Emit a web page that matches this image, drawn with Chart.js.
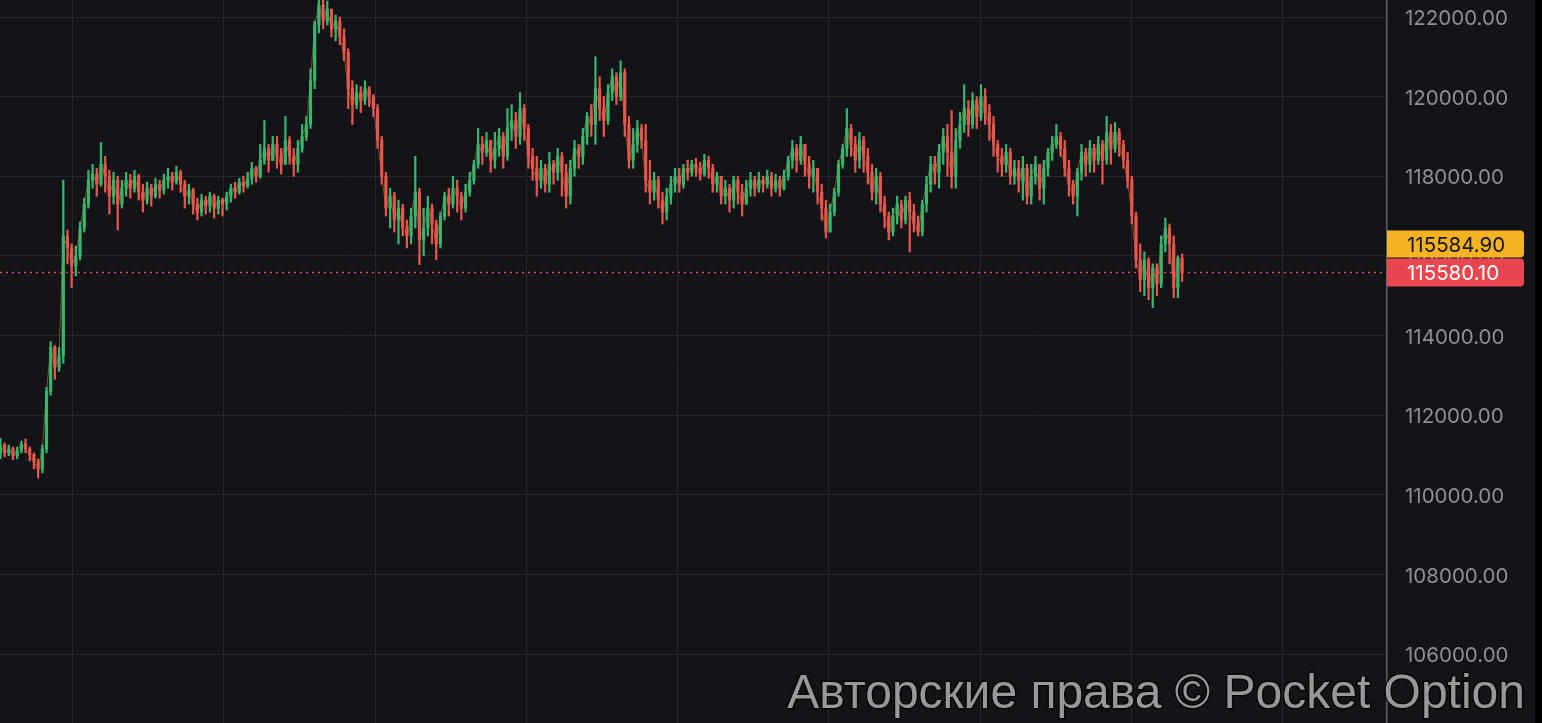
<!DOCTYPE html>
<html>
<head>
<meta charset="utf-8">
<style>
  html, body { margin: 0; background: #000; }
  #wrap { position: relative; width: 1535px; height: 723px; }
</style>
<script src="https://cdn.jsdelivr.net/npm/chart.js@4.4.1/dist/chart.umd.min.js"></script>
</head>
<body>
<div id="wrap"><canvas id="chart"></canvas></div>
<script>
// candles, oldest first; each opens at the previous close
const firstOpen = 111050;
const closes = [
  111250, 111050, 111150, 110980, 111100, 111280, 111150, 111000, 110820, 110650,
  111150, 112600, 113700, 113200, 113500, 116500, 116200, 115750, 116000, 116700,
  117300, 117900, 118050, 117800, 118300, 118000, 117500, 117900, 117300, 117700,
  117900, 117700, 118000, 117600, 117400, 117700, 117500, 117800, 117650, 117900,
  118000, 117850, 118100, 117800, 117500, 117650, 117300, 117100, 117400, 117250,
  117500, 117200, 117400, 117300, 117500, 117700, 117600, 117850, 117750, 117950,
  118200, 118000, 118400, 118700, 118400, 118800, 118500, 118300, 118900, 118500,
  118300, 118700, 119000, 119300, 120400, 121800, 122300, 121900, 122200, 121700,
  121900, 121500, 121100, 120200, 119800, 120100, 119900, 120200, 120000, 119700,
  118900, 118000, 117200, 117500, 116900, 117200, 116700, 116500, 117000, 117600,
  116400, 116700, 117200, 116800, 116300, 117000, 117500, 117300, 117700, 117500,
  117200, 117600, 117900, 118300, 118800, 118600, 118900, 118400, 118700, 119000,
  118500, 119200, 119400, 119000, 119700, 119200, 118500, 118200, 117900, 118200,
  117800, 118300, 118100, 118500, 118100, 117500, 118200, 118700, 118500, 119000,
  119500, 119300, 120200, 119700, 119400, 120100, 120500, 120000, 120600, 119300,
  118400, 118800, 119200, 118900, 117900, 117600, 117900, 117400, 117100, 117500,
  117800, 118000, 117800, 118200, 118100, 118300, 118200, 118050, 118400, 118200,
  117800, 118000, 117500, 117700, 117400, 117900, 117600, 117300, 117700, 117900,
  117700, 117900, 117800, 118000, 117700, 117900, 117700, 118000, 118400, 118700,
  118400, 118800, 118300, 118000, 118200, 117600, 117200, 116600, 117100, 117600,
  118300, 118700, 119200, 118800, 118400, 118900, 118500, 118100, 117600, 118000,
  117300, 117000, 116600, 117000, 117300, 116900, 117400, 117100, 116800, 116600,
  117300, 117800, 118300, 118100, 118600, 119000, 118600, 118000, 118900, 119300,
  119700, 119300, 119900, 119500, 120000, 119600, 119300, 118800, 118500, 118300,
  118600, 118000, 118200, 117900, 118200, 117500, 118000, 118300, 117700, 118200,
  118600, 118800, 119000, 118700, 118200, 117800, 117500, 118100, 118600, 118300,
  118700, 118400, 118800, 118400, 119100, 118700, 119100, 118800, 118400, 117900,
  117000, 115900, 115400, 115900, 115200, 115700, 115300, 116300, 116700, 116300,
  115200, 115950, 115580
];
const highs = [
  111420, 111300, 111250, 111200, 111200, 111350, 111400, 111200, 111050, 110900,
  111250, 112700, 113850, 113750, 113700, 117900, 116650, 116300, 116250, 116850,
  117450, 118150, 118300, 118200, 118850, 118500, 118150, 118100, 118000, 117900,
  118100, 118050, 118150, 118050, 117800, 117850, 117800, 117950, 117900, 118050,
  118200, 118100, 118250, 118150, 117900, 117800, 117700, 117450, 117550, 117500,
  117600, 117550, 117500, 117450, 117600, 117800, 117850, 117950, 118000, 118100,
  118350, 118250, 118800, 119400, 118800, 119000, 119000, 118700, 119500, 119000,
  118700, 118900, 119300, 119500, 120700, 121900, 122430, 122430, 122400, 122100,
  122050, 122000, 121700, 121200, 120400, 120300, 120250, 120400, 120250, 120050,
  119800, 119000, 118100, 117700, 117600, 117400, 117300, 116900, 117200, 118500,
  117700, 117200, 117500, 117300, 116900, 117100, 117600, 117700, 118000, 117900,
  117600, 117800, 118100, 118400, 119200, 119000, 119100, 118900, 119100, 119200,
  119100, 119700, 119800, 119600, 120100, 119800, 119300, 118700, 118500, 118400,
  118300, 118600, 118400, 118700, 118600, 118300, 118400, 118900, 118800, 119200,
  119600, 119800, 121000, 120500, 120000, 120300, 120700, 120600, 120900, 120700,
  119500, 119200, 119400, 119300, 119300, 118400, 118100, 118000, 117600, 117700,
  118000, 118200, 118200, 118300, 118400, 118400, 118450, 118350, 118550, 118500,
  118300, 118100, 118000, 117900, 117800, 118000, 118000, 117800, 117900, 118100,
  118000, 118100, 118000, 118150, 118100, 118050, 118000, 118150, 118500, 118900,
  118800, 119000, 118800, 118500, 118400, 118200, 117800, 117400, 117300, 117700,
  118400, 118800, 119700, 119300, 119000, 119100, 119000, 118700, 118300, 118200,
  118100, 117500, 117100, 117200, 117500, 117400, 117500, 117600, 117300, 117000,
  117400, 118000, 118500, 118500, 118800, 119200, 119300, 119650, 119200, 119600,
  120300, 119900, 120100, 120000, 120300, 120200, 119800, 119500, 118900, 118700,
  118800, 118700, 118400, 118400, 118500, 118300, 118300, 118500, 118300, 118400,
  118700, 119000, 119300, 119100, 118900, 118400, 117900, 118200, 118800, 118700,
  118900, 118800, 119000, 118900, 119500, 119300, 119350, 119200, 118900, 118600,
  118000, 117100, 116300, 116100, 115950, 115800, 115800, 116500, 116950, 116800,
  116500, 116000, 116050
];
const lows = [
  110900, 110950, 110980, 110880, 110900, 111050, 111050, 110850, 110650, 110420,
  110550, 111050, 112500, 112900, 113100, 113300, 115800, 115200, 115500, 115900,
  116600, 117200, 117700, 117500, 117750, 117600, 117050, 117300, 116650, 117200,
  117500, 117450, 117600, 117400, 117100, 117300, 117250, 117450, 117450, 117550,
  117700, 117650, 117800, 117600, 117200, 117300, 117050, 116900, 117000, 117050,
  117100, 116950, 117050, 117000, 117150, 117350, 117450, 117550, 117600, 117700,
  117800, 117850, 117950, 118300, 118100, 118400, 118200, 118050, 118300, 118300,
  118000, 118100, 118600, 118900, 119200, 120200, 121600, 121700, 121800, 121500,
  121400, 121300, 120900, 119700, 119300, 119700, 119600, 119800, 119750, 119500,
  118700, 117800, 117000, 116700, 116600, 116300, 116500, 116200, 116300, 116700,
  115780, 116000, 116500, 116300, 115900, 116200, 116900, 117000, 117200, 117100,
  116900, 117100, 117500, 117800, 118200, 118300, 118500, 118100, 118200, 118500,
  118200, 118400, 118900, 118700, 118800, 118900, 118200, 117900, 117500, 117700,
  117600, 117600, 117800, 117900, 117500, 117200, 117300, 118000, 118200, 118300,
  118800, 119000, 118800, 119400, 119000, 119300, 119900, 119800, 119900, 119000,
  118200, 118200, 118600, 118700, 117600, 117300, 117400, 117200, 116800, 116900,
  117300, 117600, 117600, 117700, 117900, 118000, 118000, 117900, 118000, 117950,
  117600, 117600, 117300, 117300, 117100, 117200, 117300, 117000, 117300, 117500,
  117500, 117600, 117600, 117700, 117500, 117600, 117500, 117650, 117900, 118200,
  118100, 118300, 118000, 117700, 117600, 117300, 116900, 116450, 116600, 117000,
  117500, 118200, 118500, 118500, 118100, 118200, 118100, 117800, 117400, 117300,
  117100, 116700, 116400, 116500, 116800, 116700, 116800, 116100, 116600, 116500,
  116500, 117100, 117600, 117800, 117700, 118300, 118000, 117700, 117700, 118700,
  119100, 119000, 119200, 119200, 119400, 119300, 118900, 118500, 118100, 118000,
  118100, 117800, 117800, 117600, 117400, 117300, 117300, 117800, 117400, 117300,
  118000, 118400, 118700, 118500, 118000, 117500, 117300, 117000, 117900, 118000,
  118100, 118100, 118300, 117800, 118300, 118300, 118600, 118500, 118200, 117700,
  116800, 115700, 115100, 115000, 114900, 114700, 115000, 115200, 116100, 115800,
  114950, 114950, 115350
];

const priceTicks = [106000, 108000, 110000, 112000, 114000, 116000, 118000, 120000, 122000];
const timeGrid = [17.2, 53.3, 89.4, 125.5, 161.6, 197.7, 233.8, 269.9, 306.0];
const xMin = -0.1;
const xMax = 330.9;
const yMin = 104267;
const yMax = 122427;
const askPrice = 115584.90;
const lastPrice = 115580.10;
const watermark = 'Авторские права © Pocket Option';

const opens = [firstOpen, ...closes.slice(0, -1)];
const idx = closes.map((_, i) => i);
const up = '#38b56c';
const down = '#e8564b';
const candleColors = closes.map((c, i) => (c >= opens[i] ? up : down));

const bgPlugin = {
    id: 'bg',
    beforeDraw(chart) {
        const { ctx, width, height } = chart;
        ctx.save();
        ctx.fillStyle = '#131318';
        ctx.fillRect(0, 0, width, height);
        ctx.restore();
    },
};

const tagPlugin = {
    id: 'tags',
    afterDraw(chart) {
        const { ctx, chartArea } = chart;
        const y = chart.scales.y.getPixelForValue(lastPrice);
        const left = chartArea.right;
        ctx.save();
        ctx.font = '20.5px Inter';
        ctx.textBaseline = 'middle';
        ctx.textAlign = 'left';

        ctx.fillStyle = '#f5b324';
        ctx.beginPath();
        ctx.roundRect(left, y - 42, 137, 27, [0, 4, 4, 0]);
        ctx.fill();
        ctx.fillStyle = '#141414';
        ctx.fillText(askPrice.toFixed(2), left + 20, y - 27);

        ctx.fillStyle = '#e9474f';
        ctx.beginPath();
        ctx.roundRect(left, y - 14, 137, 28, [0, 4, 4, 0]);
        ctx.fill();
        ctx.fillStyle = '#ffffff';
        ctx.fillText(lastPrice.toFixed(2), left + 20, y + 1.5);

        ctx.font = '48px "Liberation Sans", Arial, sans-serif';
        ctx.textAlign = 'right';
        ctx.textBaseline = 'alphabetic';
        ctx.lineWidth = 3;
        ctx.strokeStyle = 'rgba(0,0,0,0.55)';
        ctx.strokeText(watermark, 1525, 708);
        ctx.fillStyle = 'rgba(178,178,178,0.85)';
        ctx.fillText(watermark, 1525, 708);
        ctx.restore();
    },
};

new Chart(document.getElementById('chart'), {
    type: 'bar',
    data: {
        datasets: [
            {
                type: 'line',
                data: [{ x: xMin, y: lastPrice }, { x: xMax, y: lastPrice }],
                borderColor: '#e9474f',
                borderWidth: 1.5,
                borderDash: [2, 4],
                pointRadius: 0,
                order: 0,
            },
            {
                data: idx.map((i) => ({ x: i, y: [opens[i], closes[i]] })),
                backgroundColor: candleColors,
                barThickness: 2.5,
                minBarLength: 1,
                grouped: false,
                order: 1,
            },
            {
                data: idx.map((i) => ({ x: i, y: [lows[i], highs[i]] })),
                backgroundColor: candleColors,
                barThickness: 1.6,
                grouped: false,
                order: 2,
            },
            {
                type: 'line',
                data: idx.map((i) => ({ x: i, y: closes[i] })),
                borderColor: 'rgba(205,135,45,0.55)',
                borderWidth: 1,
                pointRadius: 0,
                order: 3,
            },
        ],
    },
    options: {
        responsive: true,
        maintainAspectRatio: false,
        animation: false,
        layout: { padding: 0 },
        plugins: { legend: { display: false }, tooltip: { enabled: false } },
        scales: {
            x: {
                type: 'linear',
                min: xMin,
                max: xMax,
                offset: false,
                afterBuildTicks: (s) => { s.ticks = timeGrid.map((v) => ({ value: v })); },
                grid: { color: '#26262c', drawTicks: false, offset: false },
                border: { display: false },
                ticks: { display: false },
            },
            y: {
                position: 'right',
                min: yMin,
                max: yMax,
                afterBuildTicks: (s) => { s.ticks = priceTicks.map((v) => ({ value: v })); },
                afterFit: (s) => { s.width = 148; s.paddingTop = 0; s.paddingBottom = 0; },
                grid: { color: '#26262c', drawTicks: false },
                border: { color: '#5e5e64', width: 1.5 },
                ticks: {
                    color: '#8d8d93',
                    padding: 18,
                    labelOffset: 2,
                    font: { family: 'Inter', size: 20.5 },
                    callback: (v) => Number(v).toFixed(2),
                },
            },
        },
    },
    plugins: [bgPlugin, tagPlugin],
});
</script>
</body>
</html>
